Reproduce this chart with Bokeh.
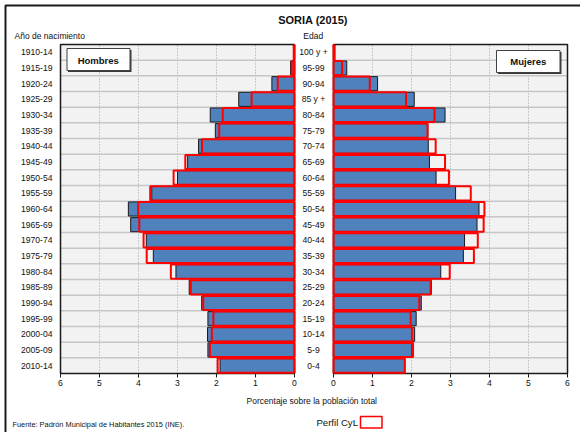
from bokeh.plotting import figure
from bokeh.models import Range1d, FixedTicker, CustomJSTickFormatter, Label
from bokeh.core.properties import value
from bokeh.embed import file_html
from bokeh.resources import INLINE

# ---------------- data (top row first) ----------------
births = ["1910-14", "1915-19", "1920-24", "1925-29", "1930-34", "1935-39",
          "1940-44", "1945-49", "1950-54", "1955-59", "1960-64", "1965-69",
          "1970-74", "1975-79", "1980-84", "1985-89", "1990-94", "1995-99",
          "2000-04", "2005-09", "2010-14"]
ages = ["100 y +", "95-99", "90-94", "85 y +", "80-84", "75-79", "70-74",
        "65-69", "60-64", "55-59", "50-54", "45-49", "40-44", "35-39",
        "30-34", "25-29", "20-24", "15-19", "10-14", "5-9", "0-4"]
men_soria = [0.01, 0.10, 0.58, 1.43, 2.16, 2.03, 2.46, 2.74, 3.00, 3.66, 4.26,
             4.20, 3.80, 3.62, 3.04, 2.70, 2.38, 2.22, 2.23, 2.22, 1.91]
men_cyl = [0.02, 0.07, 0.43, 1.10, 1.84, 1.93, 2.37, 2.80, 3.10, 3.70, 4.01,
           3.98, 3.87, 3.79, 3.17, 2.66, 2.34, 2.08, 2.12, 2.17, 1.97]
women_soria = [0.02, 0.34, 1.13, 2.07, 2.86, 2.42, 2.43, 2.46, 2.63, 3.13, 3.73,
               3.68, 3.36, 3.33, 2.75, 2.51, 2.25, 2.12, 2.08, 2.01, 1.82]
women_cyl = [0.03, 0.22, 0.93, 1.86, 2.59, 2.41, 2.62, 2.86, 2.96, 3.52, 3.87,
             3.85, 3.70, 3.60, 2.98, 2.49, 2.20, 1.98, 2.01, 2.04, 1.83]
axis_ticks = [0, 1, 2, 3, 4, 5, 6]

title_text = "SORIA (2015)"
left_axis_title = "Año de nacimiento"
mid_axis_title = "Edad"
x_title = "Porcentaje sobre la población total"
source_text = "Fuente: Padrón Municipal de Habitantes 2015 (INE)."
men_label = "Hombres"
women_label = "Mujeres"
ref_label = "Perfil CyL"

# ---------------- layout ----------------
FONT = "Liberation Sans"
W, H = 580, 432
n = len(births)
XMAX = max(axis_ticks)
GAP = 1.0                      # offset of the women panel, in x units
BAR_H = 0.45
BLUE = "#4f81bd"
RED = "#ff0000"
TXT = "#111111"

# pixel geometry of the plotting panels on the canvas
PX_L, PX_R = 60.0, 567.0       # left edge of men panel, right edge of women panel
PY_T, PY_B = 44.0, 373.0       # top / bottom of panels
UX = (PX_R - PX_L) / (2 * XMAX + GAP)
UY = (PY_B - PY_T) / n


def X(px):
    return -XMAX + (px - PX_L) / UX


def Y(py):
    return n - (py - PY_T) / UY


yc = [n - 0.5 - i for i in range(n)]

p = figure(width=W, height=H,
           x_range=Range1d(X(0), X(W)), y_range=Range1d(Y(H), Y(0)),
           output_backend="svg", toolbar_location=None, min_border=0)
p.outline_line_color = None
p.background_fill_color = "white"
p.border_fill_color = "white"
p.xgrid.visible = False
p.ygrid.visible = False

# outer chart border (only top and left edges fall inside the picture)
p.quad(left=[X(5)], right=[X(W + 20)], top=[Y(5)], bottom=[Y(H + 20)],
       fill_color=None, line_color="#1a1a1a", line_width=2)

# panel backgrounds
p.quad(left=[-XMAX, GAP], right=[0, GAP + XMAX], bottom=[0, 0], top=[n, n],
       fill_color="#f2f2f2", line_color=None)

# vertical dotted grid
vx = [-t for t in axis_ticks[1:-1]] + [GAP + t for t in axis_ticks[1:-1]]
p.segment(x0=vx, x1=vx, y0=[0] * len(vx), y1=[n] * len(vx),
          line_color="#a0a0a0", line_width=1, line_dash="1 2")
# horizontal row grid
hy = list(range(1, n))
p.segment(x0=[-XMAX] * len(hy), x1=[0] * len(hy), y0=hy, y1=hy,
          line_color="#c6c6c6", line_width=1.5)
p.segment(x0=[GAP] * len(hy), x1=[GAP + XMAX] * len(hy), y0=hy, y1=hy,
          line_color="#c6c6c6", line_width=1.5)

bot = [y - BAR_H for y in yc]
top = [y + BAR_H for y in yc]

# Soria bars
p.quad(left=[-v for v in men_soria], right=[0] * n, bottom=bot, top=top,
       fill_color=BLUE, line_color="#1a1a1a", line_width=1)
p.quad(left=[GAP] * n, right=[GAP + v for v in women_soria], bottom=bot, top=top,
       fill_color=BLUE, line_color="#1a1a1a", line_width=1)

# panel outlines
p.quad(left=[-XMAX, GAP], right=[0, GAP + XMAX], bottom=[0, 0], top=[n, n],
       fill_color=None, line_color="#1a1a1a", line_width=1.5)

# CyL profile outlines
p.quad(left=[-v for v in men_cyl], right=[0] * n, bottom=bot, top=top,
       fill_color=None, line_color=RED, line_width=2)
p.quad(left=[GAP] * n, right=[GAP + v for v in women_cyl], bottom=bot, top=top,
       fill_color=None, line_color=RED, line_width=2)

# age labels in the central gap
p.text(x=[X(313)] * n, y=yc, text=ages, text_align="center",
       text_baseline="middle", text_font=value(FONT), text_font_size="8.6px",
       text_color=TXT)

# sex boxes (with a small drop shadow)
p.quad(left=[X(67.5), X(497.5)], right=[X(131), X(561)],
       top=[Y(49.5), Y(51.5)], bottom=[Y(71.5), Y(73.5)],
       fill_color="#3a3a3a", line_color=None)
p.quad(left=[X(66.5), X(496)], right=[X(129.5), X(559.5)],
       top=[Y(48), Y(50)], bottom=[Y(70), Y(72)],
       fill_color="white", line_color="#404040", line_width=1)
p.text(x=[X(97.8), X(527.8)], y=[Y(59.5), Y(61)], text=[men_label, women_label],
       text_align="center", text_baseline="middle", text_font=value(FONT),
       text_font_style="bold", text_font_size="9.5px", text_color=TXT)

# legend swatch for the CyL profile
p.quad(left=[X(360)], right=[X(381.5)], top=[Y(416)], bottom=[Y(427.5)],
       fill_color=None, line_color=RED, line_width=1.5)

# axes, fixed at the panel edges
p.xaxis.fixed_location = 0
p.xaxis.ticker = FixedTicker(ticks=[-t for t in axis_ticks] + [GAP + t for t in axis_ticks])
p.xaxis.formatter = CustomJSTickFormatter(
    args=dict(gap=GAP),
    code="return String(Math.round(tick <= 0 ? -tick : tick - gap))")
p.xaxis.axis_line_color = None
p.xaxis.major_tick_out = 4
p.xaxis.major_tick_in = 0
p.xaxis.major_tick_line_color = "#1a1a1a"
p.xaxis.minor_tick_line_color = None
p.xaxis.major_label_standoff = 2
p.xaxis.major_label_text_font = FONT
p.xaxis.major_label_text_font_size = "8.6px"
p.xaxis.major_label_text_color = TXT

p.yaxis.fixed_location = -XMAX
p.yaxis.ticker = FixedTicker(ticks=yc)
p.yaxis.formatter = CustomJSTickFormatter(
    args=dict(labels=births, n=n),
    code="return labels[Math.round(n - 0.5 - tick)]")
p.yaxis.axis_line_color = None
p.yaxis.major_tick_line_color = None
p.yaxis.minor_tick_line_color = None
p.yaxis.major_tick_out = 0
p.yaxis.major_tick_in = 0
p.yaxis.major_label_standoff = 8
p.yaxis.major_label_text_font = FONT
p.yaxis.major_label_text_font_size = "8.6px"
p.yaxis.major_label_text_color = TXT


def lab(px, py, text, size, align="center", style="normal"):
    p.add_layout(Label(x=X(px), y=Y(py), text=text, text_font=FONT,
                       text_font_size=size, text_align=align,
                       text_baseline="middle", text_font_style=style,
                       text_color=TXT))


lab(312.5, 19.5, title_text, "11px", style="bold")
lab(14, 35.5, left_axis_title, "8.5px", align="left")
lab(312.7, 35.7, mid_axis_title, "8.5px")
lab(311.3, 400, x_title, "8.5px")
lab(12, 424, source_text, "7.4px", align="left")
lab(357.5, 421.7, ref_label, "9.6px", align="right")

open("out.html", "w").write(file_html(p, INLINE))
